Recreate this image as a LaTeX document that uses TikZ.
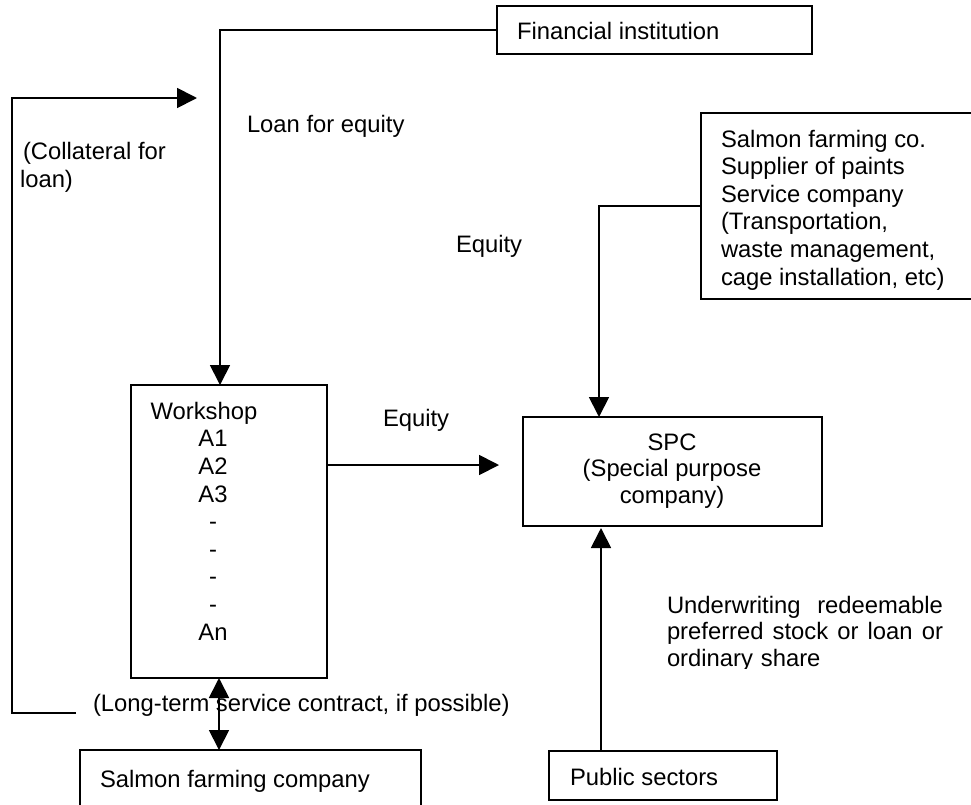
\documentclass[tikz,border=0pt]{standalone}
\usepackage{fontspec}
\setmainfont{Liberation Sans}
\usetikzlibrary{arrows.meta,calc}

\begin{document}
\begin{tikzpicture}[x=1pt,y=-1pt,
  line width=1.8pt,
  box/.style={draw=black, line width=1.8pt, rectangle, inner sep=0pt, outer sep=0pt, anchor=north west},
  txt/.style={inner sep=0pt, outer sep=0pt, anchor=base west, align=left,
              font=\fontsize{23.8}{27.6}\selectfont},
  flow/.style={-{Triangle[length=20pt,width=20pt]}},
  both/.style={{Triangle[length=20pt,width=20pt]}-{Triangle[length=20pt,width=20pt]}}
]
\useasboundingbox (0,0) rectangle (971,804);
\clip (0,0) rectangle (971,804);

% boxes
\node[box, minimum width=315pt, minimum height=48pt]  (fin) at (497,6) {};
\node[box, minimum width=300pt, minimum height=186pt] (sup) at (701,113) {};
\node[box, minimum width=196pt, minimum height=293pt] (wk)  at (131,385) {};
\node[box, minimum width=299pt, minimum height=109pt] (spc) at (523,417) {};
\node[box, minimum width=228pt, minimum height=49pt]  (pub) at (549,751) {};
\node[box, minimum width=341pt, minimum height=80pt]  (sfc) at (80,750) {};

% box texts (multi-line texts are placed by the baseline of their last line)
\node[txt] (finT) at (517,39) {Financial institution};
\node[txt] (supT) at (721,285) {Salmon farming co.\\Supplier of paints\\Service company\\(Transportation,\\waste management,\\cage installation, etc)};
\node[txt, anchor=base, align=center] (wkT) at (213,640) {\hspace*{-18pt}Workshop\\A1\\A2\\A3\\-\\-\\-\\-\\An};
\node[txt, anchor=base, align=center, font=\fontsize{23.8}{26.5}\selectfont] (spcT) at (672,503) {SPC\\(Special purpose\\company)};
\node[txt] (pubT) at (570,785) {Public sectors};
\node[txt] (sfcT) at (100,787) {Salmon farming company};

% flow labels
\node[txt] (loanL) at (247,132) {Loan for equity};
\node[txt] (collL) at (20,187) {\hspace*{3pt}(Collateral for\\loan)};
\node[txt] (eqUp)  at (456,252) {Equity};
\node[txt] (eqLow) at (383,426) {Equity};
\begin{scope}
  \clip (600,560) rectangle (971,668);
  \node[txt, text width=276pt, font=\fontsize{23.8}{26.5}\selectfont] (undL) at (667,613)
    {Underwriting\hfill redeemable\\preferred\hfill stock\hfill or\hfill loan\hfill or\\ordinary share};
\end{scope}
\node[txt] (ltL) at (93,711) {(Long-term service contract, if possible)};

% connector end points
\coordinate (wkIn)   at (220,385);
\coordinate (wkOut)  at (327,465);
\coordinate (eqTip)  at (499,465);
\coordinate (spcIn)  at (599,417);
\coordinate (spcLow) at (601,528);
\coordinate (pubTop) at (601,751);
\coordinate (wkBot)  at (219,678);
\coordinate (sfcTop) at (219,750);
\coordinate (collA)  at (76,713);
\coordinate (collB)  at (12,98);
\coordinate (collTip) at (197,98);

% connectors
\draw[flow] (fin.west) -| (wkIn);
\draw[flow] (wkOut) -- (eqTip);
\draw[flow] (sup.west |- 0,206) -| (spcIn);
\draw[flow] (pubTop) -- (spcLow);
\draw[flow] (collA) -| (collB) -- (collTip);
\draw[both] (wkBot) -- (sfcTop);
\end{tikzpicture}
\end{document}
